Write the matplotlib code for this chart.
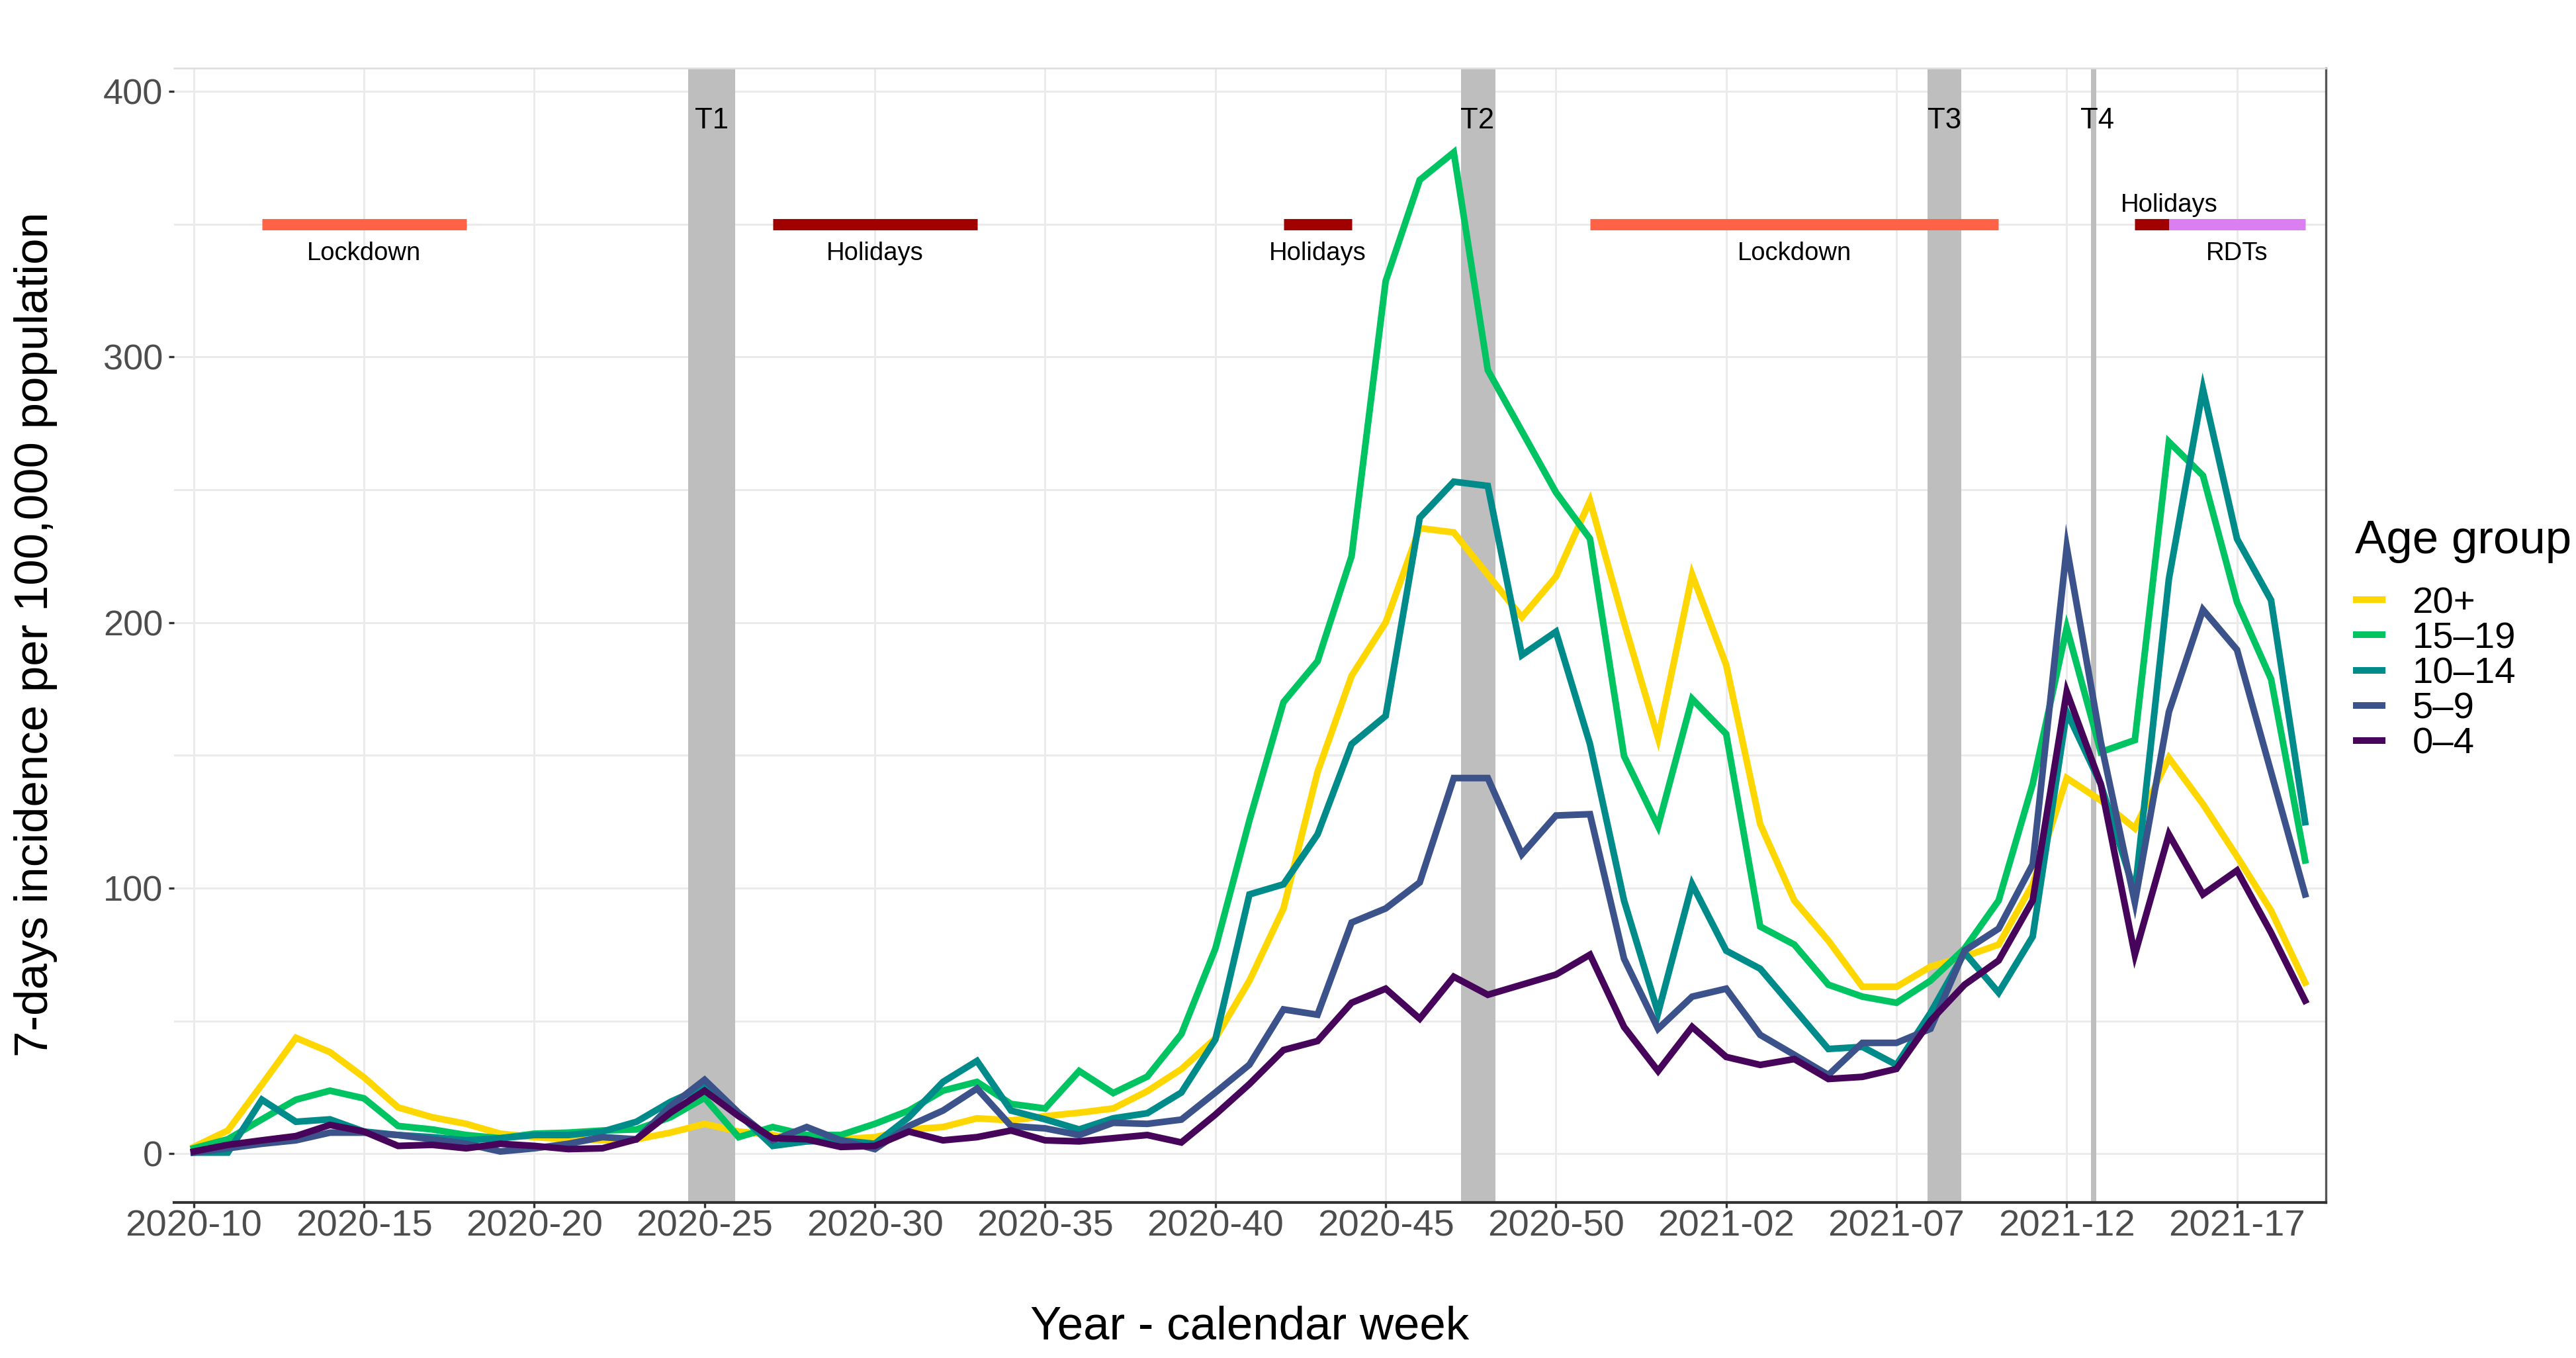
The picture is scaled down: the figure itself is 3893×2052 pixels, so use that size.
import matplotlib

matplotlib.use("Agg")
import matplotlib.pyplot as plt

plt.rcParams["font.family"] = ["Liberation Sans", "DejaVu Sans"]

# week index 0 = 2020-10 ... 43 = 2020-53, 44 = 2021-01 ... 62 = 2021-19
weeks = list(range(63))
tick_pos = [0, 5, 10, 15, 20, 25, 30, 35, 40, 45, 50, 55, 60]
tick_labels = ["2020-10", "2020-15", "2020-20", "2020-25", "2020-30", "2020-35", "2020-40",
               "2020-45", "2020-50", "2021-02", "2021-07", "2021-12", "2021-17"]

age_20plus = [2.5, 8.7, 26, 43.6, 38.2, 28.7, 17.4, 13.7, 11.2, 7.5, 6.2, 5.4, 5, 5.4, 7.9, 11.2,
              8.3, 7, 4.6, 5.4, 6.2, 9.1, 10, 13.3, 12.5, 14.1, 15.4, 17, 23.5, 31.8, 43.4, 65.1,
              92.3, 143.7, 179.9, 200, 235.5, 233.9, 218, 202, 217.2, 245.8, 200, 156.5, 218, 184,
              124, 95.3, 80.2, 62.8, 62.8, 70.4, 74.2, 78.7, 101.4, 141.4, 133, 122.5, 149, 131.6,
              111.9, 91.5, 64.4]
age_15_19 = [2, 5.4, 12.9, 20.3, 23.7, 20.8, 10.4, 9.1, 7, 5.8, 7.5, 7.9, 8.7, 9.1, 13.7, 21,
             6.2, 10, 7, 7, 11.2, 16.2, 23.7, 27, 18.7, 17, 31.1, 22.8, 29, 45, 77.2, 125.5,
             170, 185.4, 225, 328.5, 366.6, 377, 295, 272, 249, 231.5, 149.7, 123.3, 171.2, 158,
             85.5, 78.7, 63.6, 59.1, 56.8, 65.1, 77.2, 95.3, 139.1, 198, 151.2, 155.7, 268, 255.3,
             207.6, 178.7, 110.4]
age_10_14 = [0.4, 0.4, 20.3, 12, 12.9, 8.3, 7, 6.2, 5, 5.8, 7, 7, 8.3, 12, 19.5, 25.3,
             15, 2.9, 4.6, 5, 3.7, 13.7, 27, 34.9, 16.2, 12.9, 9.1, 13.3, 15.2, 23, 43, 97.6,
             101.4, 120.2, 154.2, 164.8, 239.4, 253, 251.4, 187.7, 196.5, 154.2, 95.3, 53, 101.4, 76.4,
             69.6, 54.5, 39.4, 40.2, 33.4, 53, 75.7, 60.6, 81.7, 166.3, 139.1, 98.3, 216.4, 287.9,
             231.5, 208.4, 124.8]
age_5_9 = [0.4, 2, 3.7, 5, 7.9, 7.9, 7, 5.4, 3.7, 0.8, 2, 3.7, 6.2, 5.4, 17.9, 27.8,
           15.4, 5, 10, 5, 1.7, 10.4, 16.2, 24.5, 10.4, 9.5, 7, 11.6, 11.2, 12.8, 23, 33.5,
           54.3, 52.3, 87, 92.3, 102.1, 141.4, 141.4, 112.7, 127.3, 127.8, 73.4, 47, 59.1, 62.1,
           44.7, 37.2, 29.6, 41.7, 41.7, 47, 76.4, 84.7, 108.9, 228.3, 155, 94.6, 166.3, 204.8,
           189.7, 143.7, 97.6]
age_0_4 = [0.8, 3.3, 5, 6.6, 10.8, 8.3, 2.9, 3.3, 2, 3.7, 2.9, 1.7, 2, 5.4, 15.4, 23.7,
           14.1, 5.8, 5.4, 2.5, 2.9, 8.3, 5, 6.2, 8.7, 5, 4.6, 5.8, 7, 4.2, 14.7, 26.2,
           39, 42.4, 56.8, 62.1, 50.8, 66.6, 59.8, 63.6, 67.4, 74.9, 47.7, 31.1, 47.7, 36.4,
           33.4, 35.6, 28.1, 28.9, 31.9, 50, 63.6, 72.7, 95.3, 173.9, 139.1, 74.9, 120.2, 97.6,
           106.6, 83.2, 57.6]

groups = ["20+", "15–19", "10–14", "5–9", "0–4"]
series = [age_20plus, age_15_19, age_10_14, age_5_9, age_0_4]
colors = ["#FFD700", "#00C462", "#008B8B", "#3B528B", "#46055A"]

# test periods (grey bands)
band_names = ["T1", "T2", "T3", "T4"]
band_start = [14.51, 37.21, 50.92, 55.71]
band_end = [15.90, 38.22, 51.91, 55.86]
band_label_x = [15.2, 37.7, 51.4, 55.9]

# interventions (bars at y = 350)
event_names = ["Lockdown", "Holidays", "Holidays", "Lockdown", "Holidays", "RDTs"]
event_start = [2, 17, 32, 41, 57, 58]
event_end = [8, 23, 34, 53, 58, 62]
event_colors = ["#FF6347", "#A00000", "#A00000", "#FF6347", "#A00000", "#DB7EF2"]
event_label_x = [5, 20, 33, 47, 58, 60]
event_label_y = [339, 339, 339, 339, 357, 339]

fig = plt.figure(figsize=(3893 / 300, 2052 / 300), dpi=300)
ax = fig.add_axes([263 / 3893, 1 - 1817 / 2052, (3515 - 263) / 3893, (1817 - 103) / 2052])

for x0, x1 in zip(band_start, band_end):
    ax.axvspan(x0, x1, color="#BEBEBE", lw=0, zorder=1)
for name, x in zip(band_names, band_label_x):
    ax.text(x, 389, name, ha="center", va="center", fontsize=10.5, color="black", zorder=5)

handles = []
for name, values, color in zip(groups, series, colors):
    (line,) = ax.plot(weeks, values, color=color, lw=2.4, label=name, zorder=3,
                      solid_joinstyle="miter")
    handles.append(line)

for x0, x1, color in zip(event_start, event_end, event_colors):
    ax.plot([x0, x1], [350, 350], color=color, lw=4.1, solid_capstyle="butt", zorder=4)
for name, x, y in zip(event_names, event_label_x, event_label_y):
    ax.text(x, y, name, ha="center", va="center", fontsize=9.2, color="black", zorder=5)

ax.set_xlim(-0.58, 62.61)
ax.set_ylim(-18.4, 408.7)
ax.set_xticks(tick_pos)
ax.set_xticklabels(tick_labels)
ax.set_yticks([0, 100, 200, 300, 400])
ax.set_yticks([50, 150, 250, 350], minor=True)
ax.grid(True, which="major", axis="both", color="#EBEBEB", lw=0.7, zorder=0)
ax.grid(True, which="minor", axis="y", color="#EBEBEB", lw=0.7, zorder=0)
ax.set_axisbelow(True)
ax.tick_params(axis="both", which="major", length=2, width=0.8, color="#333333",
               labelcolor="#4D4D4D")
ax.tick_params(axis="x", labelsize=13.5, pad=0.5)
ax.tick_params(axis="y", labelsize=13, pad=2)
ax.tick_params(axis="y", which="minor", length=0)

ax.spines["left"].set_visible(False)
ax.spines["top"].set_color("#DDDDDD")
ax.spines["top"].set_linewidth(0.6)
ax.spines["bottom"].set_color("#333333")
ax.spines["bottom"].set_linewidth(1.0)
ax.spines["right"].set_color("#555555")
ax.spines["right"].set_linewidth(0.8)

fig.text(54 / 3893, 1 - 959 / 2052, "7-days incidence per 100,000 population", rotation=90,
         ha="center", va="center", fontsize=17)
fig.text(1889 / 3893, 1 - 2023 / 2052, "Year - calendar week", ha="center", va="baseline",
         fontsize=17)

# legend: title placed separately to get the wider gap under it
fig.text(3559 / 3893, 1 - 836 / 2052, "Age group", ha="left", va="baseline", fontsize=17)
ax.legend(handles, groups, loc="upper left", bbox_to_anchor=(3561 / 3893, 1 - 886 / 2052),
          bbox_transform=fig.transFigure, frameon=False, fontsize=13.5, handlelength=0.7,
          handletextpad=0.8, labelspacing=0.02, borderpad=0, borderaxespad=0)

fig.savefig("out.png", dpi=300)
plt.close(fig)
